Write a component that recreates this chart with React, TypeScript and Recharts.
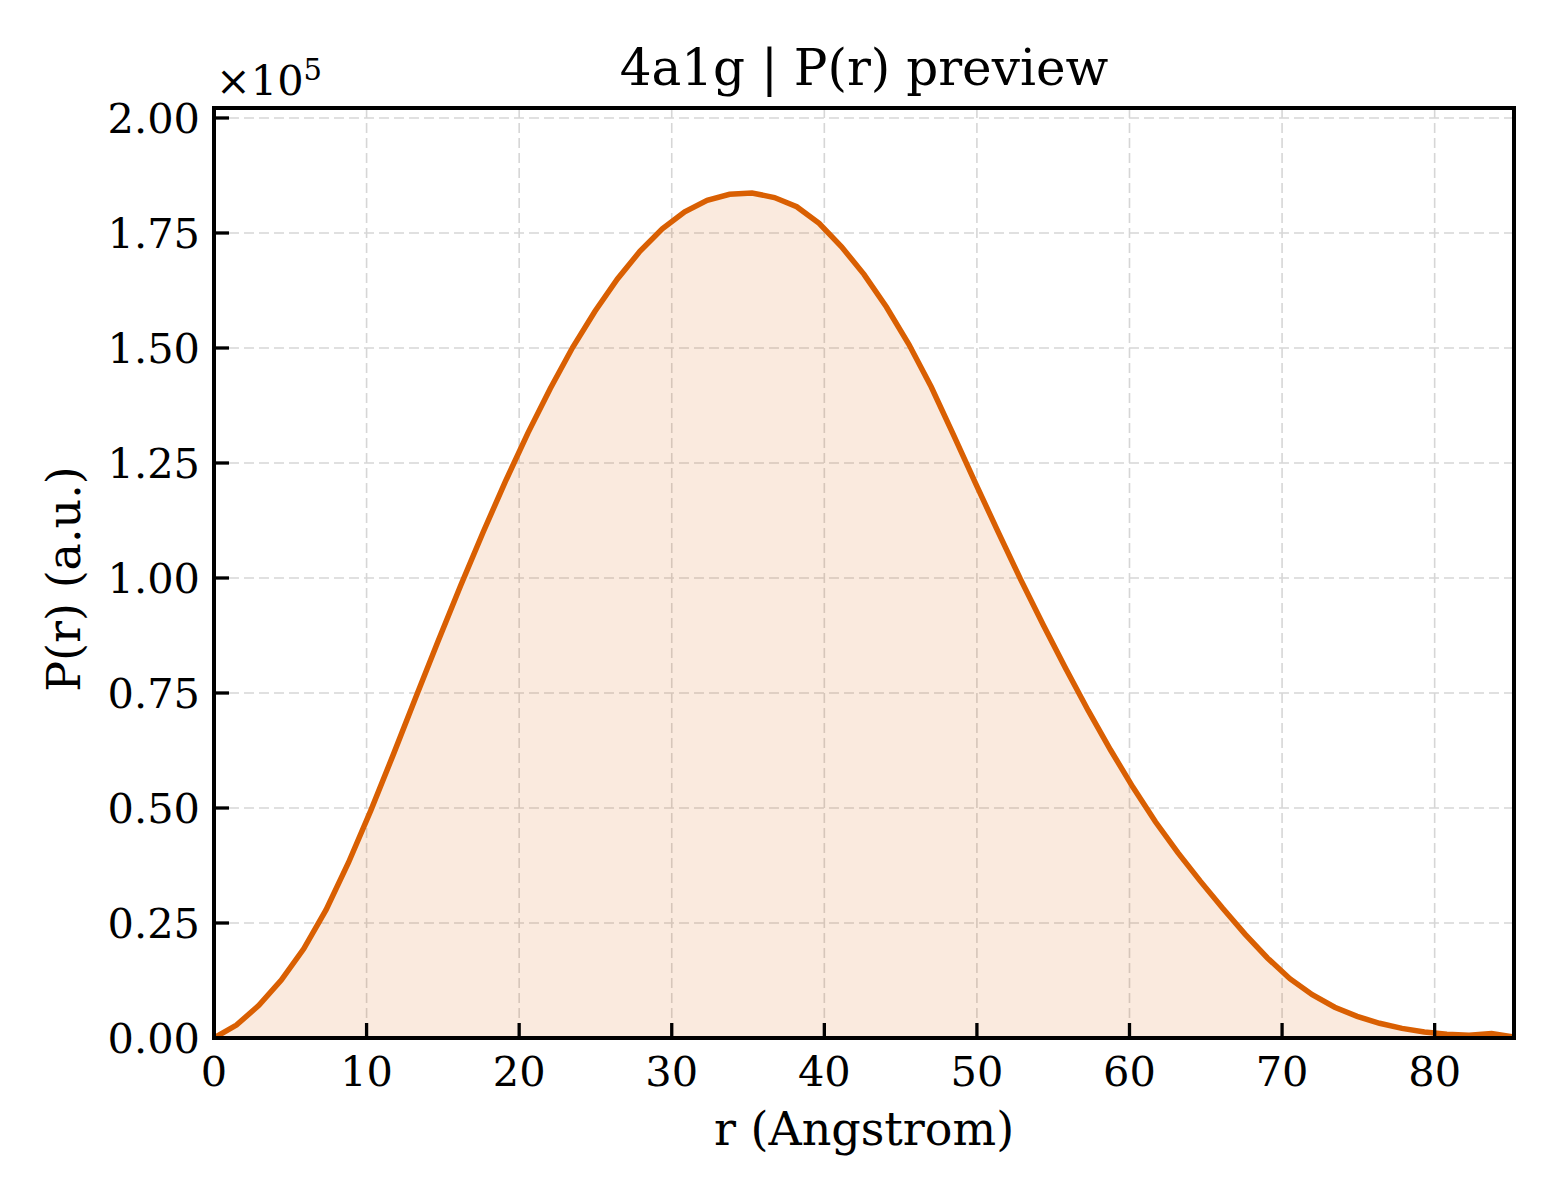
import React from 'react';
import {
  ComposedChart,
  Area,
  XAxis,
  YAxis,
  CartesianGrid,
  ReferenceArea,
} from 'recharts';

const rValues = [
  0, 1.47, 2.94, 4.41, 5.88, 7.35, 8.81, 10.28, 11.75, 13.22,
  14.69, 16.16, 17.63, 19.1, 20.57, 22.04, 23.5, 24.97, 26.44, 27.91,
  29.38, 30.85, 32.32, 33.79, 35.26, 36.73, 38.19, 39.66, 41.13, 42.6,
  44.07, 45.54, 47.01, 48.48, 49.95, 51.42, 52.88, 54.35, 55.82, 57.29,
  58.76, 60.23, 61.7, 63.17, 64.64, 66.11, 67.57, 69.04, 70.51, 71.98,
  73.45, 74.92, 76.39, 77.86, 79.33, 80.8, 82.26, 83.73, 85.2,
];

const pValues = [
  0, 2800, 7100, 12600, 19400, 27900, 38100, 49500, 61600, 74000,
  86300, 98300, 109900, 121000, 131500, 141200, 150100, 158000, 165000, 171000,
  175900, 179600, 182100, 183400, 183700, 182700, 180700, 177100, 172000, 166000,
  158900, 150800, 141500, 131000, 120300, 109800, 99600, 89800, 80300, 71200,
  62600, 54500, 47000, 40300, 34100, 28200, 22600, 17400, 12900, 9400,
  6700, 4700, 3200, 2100, 1300, 800, 600, 1000, 200,
];

const xTicks = [0, 10, 20, 30, 40, 50, 60, 70, 80];
const yTicks = [0, 25000, 50000, 75000, 100000, 125000, 150000, 175000, 200000];

const X_MAX = 85.2;
const Y_MAX = 202170;

const FONT = "'DejaVu Serif', serif";
const LINE_COLOR = '#d95f02';

const data = rValues.map((r, i) => ({ r, p: pValues[i] }));

export default function App() {
  return (
    <div
      style={{
        position: 'absolute',
        left: 0,
        top: 0,
        width: 1560,
        height: 1200,
        background: '#fff',
        fontFamily: FONT,
      }}
    >
      <ComposedChart
        width={1560}
        height={1200}
        data={data}
        margin={{ top: 108, right: 46, left: 114, bottom: 102 }}
      >
        <CartesianGrid stroke="#d6d6d6" strokeDasharray="10 5" strokeWidth={1.6} />
        <XAxis
          dataKey="r"
          type="number"
          domain={[0, X_MAX]}
          ticks={xTicks}
          interval={0}
          allowDataOverflow
          height={60}
          tickSize={-15}
          tickMargin={34}
          tickLine={{ stroke: '#000', strokeWidth: 3.3 }}
          axisLine={{ stroke: '#000', strokeWidth: 4 }}
          tick={{ fill: '#000', fontSize: 41.5, fontFamily: FONT }}
        />
        <YAxis
          type="number"
          domain={[0, Y_MAX]}
          ticks={yTicks}
          interval={0}
          allowDataOverflow
          width={100}
          tickSize={-15}
          tickMargin={29}
          tickFormatter={(v: number) => (v / 1e5).toFixed(2)}
          tickLine={{ stroke: '#000', strokeWidth: 3.3 }}
          axisLine={{ stroke: '#000', strokeWidth: 4 }}
          tick={{ fill: '#000', fontSize: 41.5, fontFamily: FONT }}
        />
        <Area
          type="linear"
          dataKey="p"
          stroke={LINE_COLOR}
          strokeWidth={5.5}
          fill={LINE_COLOR}
          fillOpacity={0.13}
          dot={false}
          activeDot={false}
          isAnimationActive={false}
        />
        <ReferenceArea
          x1={0}
          x2={X_MAX}
          y1={0}
          y2={Y_MAX}
          fill="none"
          stroke="#000"
          strokeWidth={4}
          ifOverflow="visible"
        />
      </ComposedChart>
      <svg
        width={1560}
        height={1200}
        style={{ position: 'absolute', left: 0, top: 0, pointerEvents: 'none' }}
      >
        <text x={864} y={85} textAnchor="middle" fontSize={50} fontFamily={FONT} fill="#000">
          4a1g | P(r) preview
        </text>
        <text x={864} y={1145} textAnchor="middle" fontSize={46} fontFamily={FONT} fill="#000">
          r (Angstrom)
        </text>
        <text
          x={80}
          y={579}
          textAnchor="middle"
          fontSize={46}
          fontFamily={FONT}
          fill="#000"
          transform="rotate(-90, 80, 579)"
        >
          P(r) (a.u.)
        </text>
        <text x={216} y={95} fontSize={41.5} fontFamily={FONT} fill="#000">
          ×10
          <tspan fontSize={29} dy={-15}>5</tspan>
        </text>
      </svg>
    </div>
  );
}
